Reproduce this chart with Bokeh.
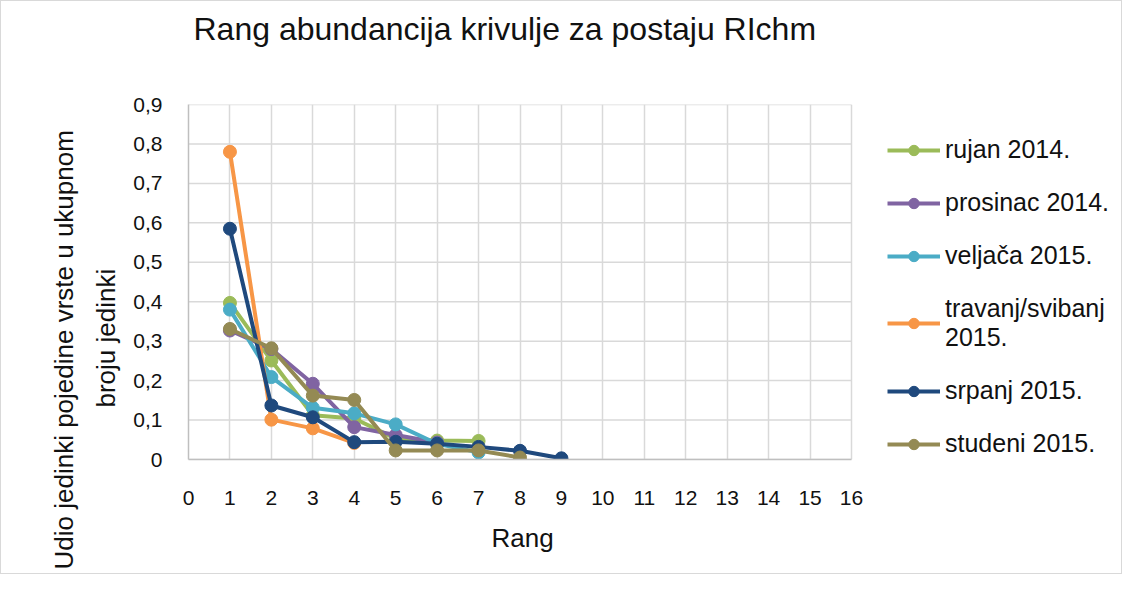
from bokeh.plotting import figure
from bokeh.models import Legend, LegendItem, FixedTicker, Title
from bokeh.embed import file_html
from bokeh.resources import INLINE

# ---- data ----
series_names = ["rujan 2014.", "prosinac 2014.", "veljača 2015.",
                "travanj/svibanj\n2015.", "srpanj 2015.", "studeni 2015."]
series_colors = ["#9BBB59", "#8064A2", "#4BACC6", "#F79646", "#1F497D", "#948A54"]

rujan_2014 = [0.397, 0.251, 0.112, 0.104, 0.053, 0.048, 0.047]
prosinac_2014 = [0.327, 0.280, 0.192, 0.082, 0.062, 0.043]
veljaca_2015 = [0.380, 0.209, 0.131, 0.117, 0.089, 0.040, 0.018]
travanj_svibanj_2015 = [0.780, 0.101, 0.079, 0.042]
srpanj_2015 = [0.585, 0.137, 0.107, 0.044, 0.045, 0.040, 0.032, 0.022, 0.003]
studeni_2015 = [0.331, 0.282, 0.162, 0.151, 0.023, 0.023, 0.023, 0.005]

all_series = [rujan_2014, prosinac_2014, veljaca_2015,
              travanj_svibanj_2015, srpanj_2015, studeni_2015]

x_ticks = list(range(0, 17))
y_ticks = [0.0, 0.1, 0.2, 0.3, 0.4, 0.5, 0.6, 0.7, 0.8, 0.9]
y_tick_labels = ["0", "0,1", "0,2", "0,3", "0,4", "0,5", "0,6", "0,7", "0,8", "0,9"]

title_text = "Rang abundancija krivulje za postaju RIchm"
x_title = "Rang"
y_title_lines = ["Udio jedinki pojedine vrste u ukupnom", "broju jedinki"]

FONT = "Liberation Sans"
TXT = "#111111"

# ---- layout (pixels) ----
W, H = 1122, 574
LEFT, TOP, BOTTOM = 187, 103, 116
PLOT_PX = 663                       # pixel width of the 0..16 axis span
x_min, x_max = x_ticks[0], x_ticks[-1]
frame_w = W - LEFT
x_end = x_min + (x_max - x_min) * frame_w / PLOT_PX   # frame extends right for the legend

p = figure(width=W, height=H, output_backend="svg", toolbar_location=None,
           title=None,
           x_range=(x_min, x_end), y_range=(y_ticks[0], y_ticks[-1]),
           min_border_left=LEFT, min_border_right=0,
           min_border_top=TOP, min_border_bottom=BOTTOM,
           background_fill_color="white", border_fill_color="white")
p.styles = {"border": "1px solid #d9d9d9"}
p.outline_line_color = None

# chart title (spacer keeps the title higher above the plot area)
p.add_layout(Title(text=" ", text_font=FONT, text_font_size="10px", standoff=45), "above")
p.add_layout(Title(text=title_text, align="left", vertical_align="bottom",
                   standoff=0, offset=5,
                   text_font=FONT, text_font_size="32px",
                   text_font_style="normal", text_color=TXT), "above")

# grids: vertical from the grid, horizontal as segments limited to 0..16
p.xgrid.ticker = FixedTicker(ticks=x_ticks)
p.xgrid.grid_line_color = "#d9d9d9"
p.xgrid.grid_line_width = 1.5
p.ygrid.visible = False
p.segment(x0=[x_min] * len(y_ticks), x1=[x_max] * len(y_ticks),
          y0=y_ticks, y1=y_ticks, line_color="#d9d9d9", line_width=1.5)

# axes
p.xaxis.ticker = FixedTicker(ticks=x_ticks)
p.xaxis.bounds = (x_min, x_max)
p.yaxis.ticker = FixedTicker(ticks=y_ticks)
p.yaxis.major_label_overrides = {t: l for t, l in zip(y_ticks, y_tick_labels)}
for ax in (p.xaxis[0], p.yaxis[0]):
    ax.axis_line_color = "#bfbfbf"
    ax.axis_line_width = 1.5
    ax.major_tick_line_color = None
    ax.minor_tick_line_color = None
    ax.major_tick_out = 0
    ax.major_tick_in = 0
    ax.major_label_text_font = FONT
    ax.major_label_text_font_size = "21px"
    ax.major_label_text_color = TXT

p.xaxis.major_label_standoff = 31
p.yaxis.major_label_standoff = 26

# x title below the axis, centred under the 0..16 span
p.add_layout(Title(text=x_title, align="left", vertical_align="top",
                   standoff=30, offset=303,
                   text_font=FONT, text_font_size="26px",
                   text_font_style="normal", text_color=TXT), "below")

# y title, two lines (second line is nearer the axis)
p.add_layout(Title(text=y_title_lines[1], align="left", vertical_align="bottom",
                   standoff=20, offset=52,
                   text_font=FONT, text_font_size="26px",
                   text_font_style="normal", text_color=TXT), "left")
p.add_layout(Title(text=y_title_lines[0], align="left", vertical_align="bottom",
                   standoff=0, offset=-110,
                   text_font=FONT, text_font_size="26px",
                   text_font_style="normal", text_color=TXT), "left")

# series
items = []
for name, color, vals in zip(series_names, series_colors, all_series):
    ranks = list(range(1, len(vals) + 1))
    r_line = p.line(ranks, vals, line_color=color, line_width=4)
    r_pts = p.scatter(ranks, vals, size=13, fill_color=color, line_color=color)
    items.append(LegendItem(label=name, renderers=[r_line, r_pts]))

legend = Legend(items=items, location=(699, 1))
legend.label_text_font = FONT
legend.label_text_font_size = "25px"
legend.label_text_color = TXT
legend.glyph_width = 53
legend.glyph_height = 26
legend.label_height = 26
legend.label_standoff = 5
legend.spacing = 24
legend.padding = 0
legend.margin = 0
legend.border_line_color = None
legend.background_fill_alpha = 0
p.add_layout(legend, "center")

open("out.html", "w").write(file_html(p, INLINE))
